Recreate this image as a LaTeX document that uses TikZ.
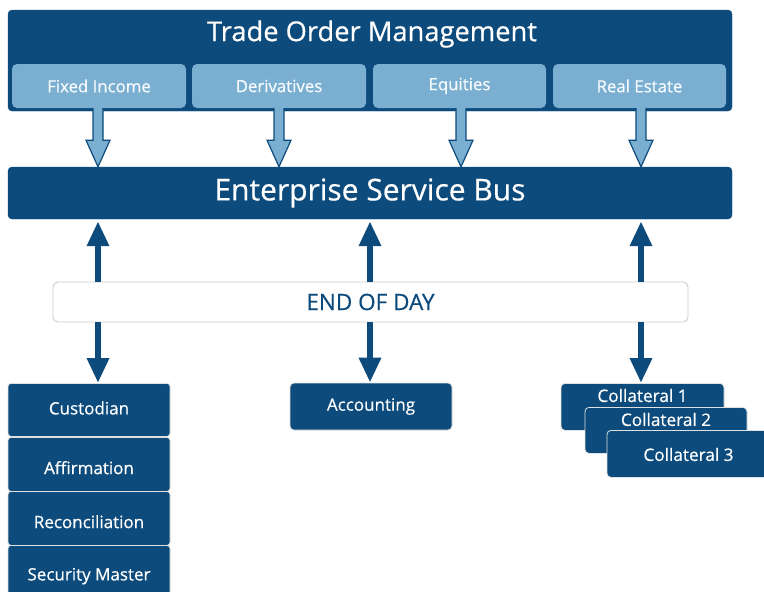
\documentclass[tikz,border=0pt]{standalone}
\usepackage{fontspec}
\setmainfont{Open Sans}[FakeBold=0.5]
\usetikzlibrary{arrows.meta,calc}
\definecolor{dblue}{HTML}{0C4B7C}
\definecolor{lblue}{HTML}{7BAFD2}
\definecolor{eodgray}{HTML}{CDCDCD}
\begin{document}
\begin{tikzpicture}[x=1pt,y=-1pt,
  darkbox/.style={fill=dblue,draw=dblue,rounded corners=4pt,inner sep=0pt,text=white,font=\fontsize{17}{18}\selectfont},
  stackbox/.style={fill=dblue,draw=white!75!gray,line width=0.8pt,rounded corners=3pt,inner sep=0pt,text=white,font=\fontsize{17}{18}\selectfont,minimum width=162pt,anchor=north},
  subbox/.style={fill=lblue,rounded corners=5pt,inner sep=0pt,text=white!95!lblue,font=\fontsize{16.8}{18}\selectfont,minimum height=44pt},
  collbox/.style={fill=dblue,draw=white!75!gray,line width=0.8pt,rounded corners=4pt,inner ysep=0pt,inner xsep=0pt,text=white,font=\fontsize{17.2}{18}\selectfont},
  darrow/.style={draw=dblue,line width=6.5pt,-{Triangle[length=25pt,width=21pt]}},
  larrow/.style={fill=lblue,draw=dblue,line width=1.2pt,line join=miter}
]
\useasboundingbox (0,0) rectangle (764,592);
% top block
\node[darkbox,minimum width=724pt,minimum height=101pt] (tom) at (370,60.5) {};
\node[text=white,font=\fontsize{27.3}{28}\selectfont,inner sep=0pt] (tomt) at (372,34) {Trade Order Management};
\node[subbox,minimum width=174pt] (fi) at (99,86) {Fixed Income};
\node[subbox,minimum width=174pt] (der) at (279,86) {Derivatives};
\node[subbox,minimum width=173pt] (eq) at (459.5,86) {Equities};
\node[subbox,minimum width=173pt] (re) at (639.5,86) {Real Estate};
% ESB
\node[darkbox,minimum width=724pt,minimum height=52pt,font=\fontsize{30}{30}\selectfont] (esb) at (370,193) {Enterprise Service Bus};
% light block arrows
\foreach \s/\x in {fi/98,der/279,eq/461,re/641}{
  \draw[larrow] ($(\s.south -| \x,0)+(-5,0)$) -- ($(\s.south -| \x,0)+(-5,32)$) -- ($(\s.south -| \x,0)+(-12,32)$)
    -- ($(esb.north -| \x,0)$) -- ($(\s.south -| \x,0)+(12,32)$) -- ($(\s.south -| \x,0)+(5,32)$) -- ($(\s.south -| \x,0)+(5,0)$);
}
% EOD
\node[fill=white,draw=eodgray,line width=0.9pt,rounded corners=5pt,minimum width=635pt,minimum height=40pt,inner sep=0pt,text=dblue,font=\fontsize{22.5}{22}\selectfont] (eod) at (370.5,302) {END OF DAY};
% bottom left stack
\node[stackbox,text height=31pt,text depth=22pt] (cust) at (89,383) {Custodian};
\node[stackbox,text height=36.7pt,text depth=17.3pt] (aff) at (89,437) {Affirmation};
\node[stackbox,text height=36.7pt,text depth=17.3pt] (rec) at (89,491) {Reconciliation};
\node[stackbox,text height=35pt,text depth=21pt] (sec) at (89,545) {Security Master};
% accounting
\node[darkbox,draw=white!75!gray,line width=0.8pt,minimum width=162pt,minimum height=47pt] (acc) at (371,406.5) {Accounting};
% collaterals
\node[collbox,minimum width=163pt,text height=18.5pt,text depth=28.5pt,anchor=north] (c1) at (642.5,383) {Collateral 1};
\node[collbox,minimum width=162pt,text height=18.5pt,text depth=27.5pt,anchor=north] (c2) at (666,407) {Collateral 2};
\node[collbox,minimum width=163pt,text height=30.5pt,text depth=16.5pt,anchor=north] (c3) at (688.5,430) {Collateral 3};
% dark arrows
\foreach \b/\x in {cust/98,acc/370,c1/641}{
  \draw[darrow] (eod.north -| \x,0) -- ($(esb.south -| \x,0)+(0,2)$);
  \draw[darrow] (eod.south -| \x,0) -- (\b.north -| \x,0);
}
\end{tikzpicture}
\end{document}
